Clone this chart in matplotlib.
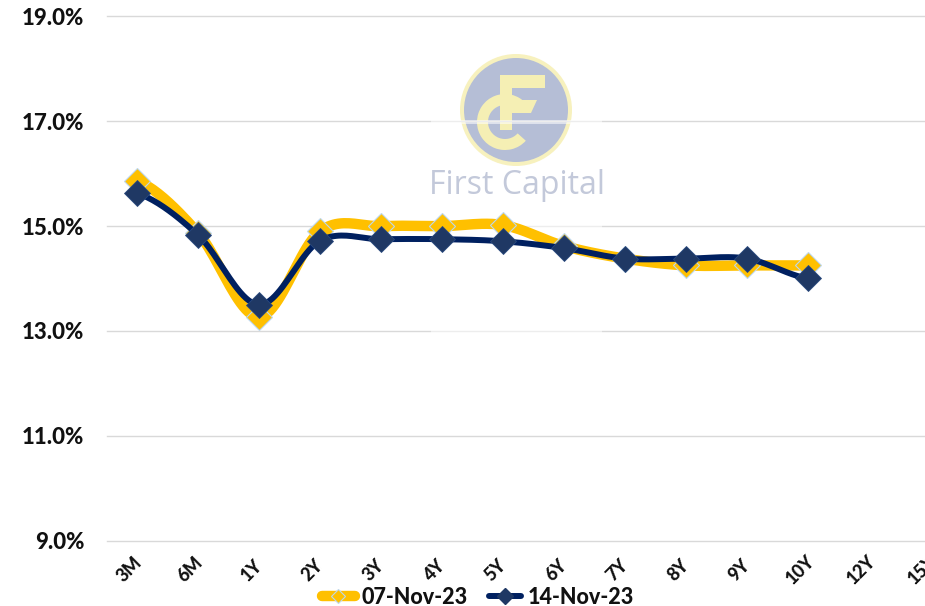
import numpy as np
import matplotlib
matplotlib.use("Agg")
import matplotlib.pyplot as plt
from matplotlib.lines import Line2D
from matplotlib.patches import Circle, Wedge, Polygon, Rectangle

categories = ["3M","6M","1Y","2Y","3Y","4Y","5Y","6Y","7Y","8Y","9Y","10Y","12Y","15Y"]
series_a_name = "07-Nov-23"
series_b_name = "14-Nov-23"
series_a = [15.87, 14.87, 13.27, 14.90, 15.00, 15.00, 15.02, 14.62, 14.38, 14.25, 14.25, 14.25]
series_b = [15.63, 14.83, 13.50, 14.72, 14.75, 14.75, 14.71, 14.58, 14.38, 14.38, 14.38, 14.00]
y_ticks = [9, 11, 13, 15, 17, 19]

W, H = 925, 606
YELLOW = "#FFC000"
NAVY = "#002060"
DIAMOND = "#1F3864"
EDGE = "#BDD7EE"
plt.rcParams["font.family"] = ["Lato", "DejaVu Sans"]

fig = plt.figure(figsize=(W/100, H/100), dpi=100, facecolor="white")

# logo layer in pixel coordinates
bg = fig.add_axes([0, 0, 1, 1], zorder=0)
bg.set_xlim(0, W); bg.set_ylim(H, 0); bg.axis("off")
bg.add_patch(Circle((516, 110), 56, fc="#F7F1BE", ec="none"))
bg.add_patch(Circle((516, 110), 52, fc="#B5BED6", ec="none"))
bg.add_patch(Wedge((505, 122), 28, 42, 318, width=11, fc="#F5EFB4", ec="none"))
bg.add_patch(Rectangle((500, 75), 45, 13, fc="#F5EFB4", ec="none"))
bg.add_patch(Rectangle((500, 75), 12, 55, fc="#F5EFB4", ec="none"))
bg.add_patch(Polygon([(512, 100), (537, 100), (531, 113), (512, 113)], fc="#F5EFB4", ec="none"))
bg.text(517, 186, "First Capital", ha="center", va="center", fontsize=23,
        color="#C3C9DA", family=["Open Sans", "DejaVu Sans"])
bg.add_patch(Wedge((-8, 618), 24, 0, 90, fc=NAVY, ec="none"))

# main chart: 14 categories, cropped by the right edge of the figure
band = 61.0
left_px = 106.5
top_px, bottom_px = 16.5, 540.5
ax = fig.add_axes([left_px/W, 1-bottom_px/H, (W-left_px)/W, (bottom_px-top_px)/H], zorder=1)
ax.patch.set_alpha(0)
ax.set_xlim(-0.5, -0.5 + (W-left_px)/band)
ax.set_ylim(9, 19)
for s in ax.spines.values():
    s.set_visible(False)
ax.set_yticks(y_ticks)
ax.set_yticklabels([f"{v:.1f}%" for v in y_ticks], fontsize=16, fontweight="black", color="#111111")
ax.tick_params(axis="y", length=0, pad=16)
ax.tick_params(axis="x", length=0)
ax.yaxis.grid(True, color="#D9D9D9", lw=1.0, clip_on=False)
ax.set_axisbelow(True)
ax.set_xticks([])

# the pasted logo's translucent box washes out the gridlines behind it
for yp in (121.5, 226, 331):
    ax.add_patch(Rectangle((431/W, 1-(yp+2)/H), 171/W, 4/H, transform=fig.transFigure,
                           fc="white", ec="none", alpha=0.55, zorder=1.5))

for i, c in enumerate(categories):
    ax.text(i - 0.12, 9 - 0.56, c, rotation=45, ha="center", va="center", fontsize=13,
            fontweight="black", color="#111111", clip_on=False)

def smooth(y, n=24):
    """Excel-style smoothed line through the data points."""
    y = np.asarray(y, float)
    x = np.arange(len(y), dtype=float)
    xs, ys = [], []
    for i in range(len(y)-1):
        y0 = y[max(i-1, 0)]; y3 = y[min(i+2, len(y)-1)]
        c1 = y[i] + (y[i+1]-y0)/6
        c2 = y[i+1] - (y3-y[i])/6
        t = np.linspace(0, 1, n)
        ys.append((1-t)**3*y[i] + 3*(1-t)**2*t*c1 + 3*(1-t)*t**2*c2 + t**3*y[i+1])
        xs.append(x[i] + t)
    return np.concatenate(xs), np.concatenate(ys)

xa, ya = smooth(series_a)
xb, yb = smooth(series_b)
ax.plot(xa, ya, color=YELLOW, lw=7.5, solid_capstyle="round", zorder=3)
ax.plot(range(len(series_a)), series_a, ls="none", marker="D", ms=13, mfc=YELLOW, mec=EDGE, mew=0.8, zorder=3.1)
ax.plot(xb, yb, color=NAVY, lw=4.3, solid_capstyle="round", zorder=4)
ax.plot(range(len(series_b)), series_b, ls="none", marker="D", ms=13.5, mfc=DIAMOND, mec="#2A4A7F", mew=0.6, zorder=4.1)

handles = [
    Line2D([], [], color=YELLOW, lw=7.5, solid_capstyle="round", marker="D", ms=7.5, mfc=YELLOW, mec=EDGE, mew=0.8),
    Line2D([], [], color=NAVY, lw=4.3, solid_capstyle="round", marker="D", ms=8, mfc=DIAMOND, mec=DIAMOND),
]
leg = fig.legend(handles, [series_a_name, series_b_name], loc="center", bbox_to_anchor=(478/W, 1-597/H),
                 ncol=2, frameon=False, handlelength=1.5, handletextpad=0.3,
                 columnspacing=1.0, borderpad=0, labelcolor="#111111",
                 prop={"weight": "black", "size": 15.5})
fig.savefig("out.png", dpi=100)
